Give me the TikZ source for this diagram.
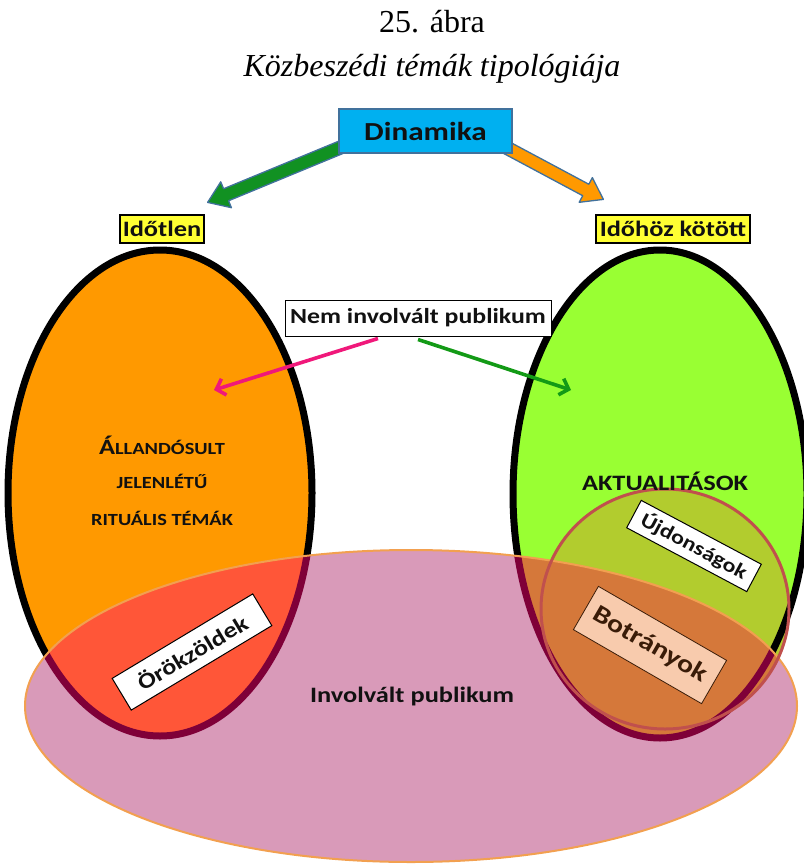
\documentclass[tikz,border=0pt]{standalone}
\usepackage{fontspec}
\setmainfont{Liberation Serif}
\newfontfamily\calib[FakeStretch=1.2]{Carlito}
\usetikzlibrary{arrows.meta,calc,positioning,backgrounds}
\definecolor{ink}{HTML}{111111}
\definecolor{dyncyan}{HTML}{00B0F0}
\definecolor{dynedge}{HTML}{41719C}
\definecolor{leafgreen}{HTML}{119122}
\definecolor{amber}{HTML}{FF9900}
\definecolor{lime}{HTML}{99FF33}
\definecolor{tagyellow}{HTML}{FFFF33}
\definecolor{publpink}{HTML}{D99AB9}
\definecolor{publedge}{HTML}{F2A050}
\definecolor{redmix}{HTML}{FF5638}
\definecolor{olivemix}{HTML}{B2CC2E}
\definecolor{brownmix}{HTML}{D5783A}
\definecolor{maroon}{HTML}{7F0038}
\definecolor{ringedge}{HTML}{C0504D}
\definecolor{peach}{HTML}{F8CBAD}
\definecolor{darkbrown}{HTML}{3A1C08}
\definecolor{hotpink}{HTML}{F0187A}
\definecolor{grassline}{HTML}{139A16}
\tikzset{
  tag/.style={draw=black,line width=1pt,fill=white,inner sep=0pt,text=ink,font=\calib\bfseries\fontsize{22}{26}\selectfont},
  yellowtag/.style={tag,fill=tagyellow,line width=1.2pt,minimum height=28pt},
  eggline/.style={line width=7pt},
  fatline/.style={draw=dynedge,line width=1.3pt,line join=round},
  thinarrow/.style={line width=3.6pt,-{Straight Barb[length=8pt,width=17pt]}},
  caps/.style={text=ink,font=\calib\bfseries\fontsize{17}{20}\selectfont}
}
\newcommand\fatarrow[3]{%
  \coordinate (fa-h) at ($(#2)!20pt!(#1)$);
  \draw[fatline,fill=#3] ($(#1)!6.5pt!90:(#2)$) -- ($(fa-h)!6.5pt!90:(#2)$) -- ($(fa-h)!14pt!90:(#2)$) -- (#2)
    -- ($(fa-h)!14pt!-90:(#2)$) -- ($(fa-h)!6.5pt!-90:(#2)$) -- ($(#1)!6.5pt!-90:(#2)$) -- cycle;}
\def\leftegg{(160,493) ellipse [x radius=152pt, y radius=243pt]}
\def\rightegg{(660,494) ellipse [x radius=147pt, y radius=244pt]}
\def\publegg{(411,706) ellipse [x radius=386pt, y radius=156pt]}
\def\ring{(665,609) ellipse [x radius=124pt, y radius=120pt]}

\begin{document}
\begin{tikzpicture}[x=1pt,y=-1pt]
\useasboundingbox (0,0) rectangle (803,867);
% --- title
\node[anchor=base,font=\fontsize{32}{36}\selectfont] (fig) at (432,33) {25. ábra};
\node[anchor=base,font=\itshape\fontsize{32}{36}\selectfont] (cap) at (432,77) {Közbeszédi témák tipológiája};
% --- the two eggs and the circle
\fill[amber] \leftegg;
\fill[lime] \rightegg;
\fill[olivemix] \ring;
\draw[eggline] \leftegg;
\draw[eggline] \rightegg;
% --- involved public
\fill[publpink] \publegg;
\begin{scope}
\clip \publegg;
\fill[redmix] \leftegg;
\fill[brownmix] \rightegg;
\fill[brownmix] \ring;
\draw[eggline,maroon] \leftegg;
\draw[eggline,maroon] \rightegg;
\end{scope}
\draw[publedge,line width=2pt] \publegg;
\draw[ringedge,line width=3pt] \ring;
% --- dynamics
\node[fill=dyncyan,draw=dynedge,line width=1.5pt,minimum width=173pt,minimum height=44pt,inner sep=0pt,
      text=ink,font=\calib\bfseries\fontsize{26}{30}\selectfont] (din) at (425.5,131) {Dinamika};
\node[yellowtag,minimum width=84pt] (idotlen) at (162,229) {Időtlen};
\node[yellowtag,minimum width=154pt] (idohoz) at (673,229) {Időhöz kötött};
\begin{scope}[on background layer]
\coordinate (gs) at ($(din.south west)+(4,-7)$);
\coordinate (gt) at ($(idotlen.north east)+(3,-12)$);
\coordinate (os) at ($(din.south east)+(-6,-6)$);
\coordinate (ot) at ($(idohoz.north west)+(8,-15)$);
\fatarrow{gs}{gt}{leafgreen}
\fatarrow{os}{ot}{amber}
\end{scope}
% --- not involved public
\node[tag,minimum width=266pt,minimum height=36pt,font=\calib\bfseries\fontsize{21.5}{26}\selectfont] (nem) at (418,318) {Nem involvált publikum};
\coordinate (pt) at (214,390);
\coordinate (gt2) at (571,390);
\draw[thinarrow,hotpink] ($(nem.south)+(-40,2)$) -- (pt);
\draw[thinarrow,grassline] ($(nem.south)+(0,3)$) -- (gt2);
% --- texts in the eggs
\node[caps] (all1) at (162,445) {{\fontsize{22}{26}\selectfont Á}LLANDÓSULT};
\node[caps] (all2) at (162,481) {JELENLÉTŰ};
\node[caps] (all3) at (162,518) {RITUÁLIS TÉMÁK};
\node[text=ink,font=\calib\bfseries\fontsize{22}{26}\selectfont] (akt) at (665,481) {AKTUALITÁSOK};
\node[text=ink,font=\calib\bfseries\fontsize{22}{26}\selectfont] (inv) at (412,697) {Involvált publikum};
\node[tag,rotate=31,minimum width=164pt,minimum height=37pt] (orok) at (192,652) {Örökzöldek};
\node[tag,rotate=-28,minimum width=136pt,minimum height=31pt,font=\calib\bfseries\fontsize{20}{24}\selectfont] (ujd) at (694,546) {Újdonságok};
\node[tag,rotate=-30,fill=peach,draw=darkbrown,line width=0.8pt,minimum width=148pt,minimum height=50pt,
      text=darkbrown,font=\calib\bfseries\fontsize{25}{30}\selectfont] (botr) at (650,645) {Botrányok};
\end{tikzpicture}
\end{document}
